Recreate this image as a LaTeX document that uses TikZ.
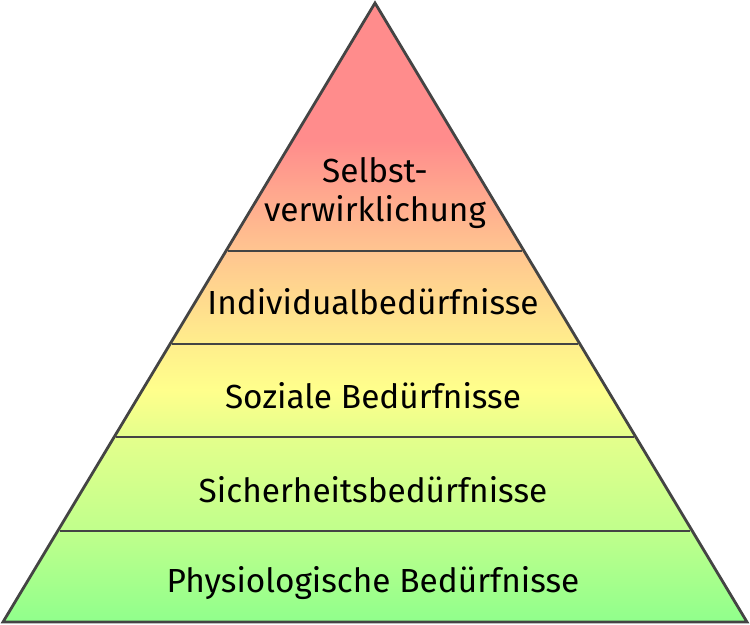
\documentclass[tikz,border=0pt]{standalone}
\usepackage{fontspec}
\setmainfont{Fira Sans}
\usepackage{tikz}

\definecolor{toprot}{RGB}{255,140,140}
\definecolor{pfirsich}{RGB}{255,197,144}
\definecolor{hellgelb}{RGB}{255,238,140}
\definecolor{gelb}{RGB}{255,255,140}
\definecolor{gelbgruen}{RGB}{228,255,140}
\definecolor{hellgruen}{RGB}{192,255,140}
\definecolor{gruen}{RGB}{144,255,140}
\definecolor{linie}{RGB}{68,68,68}

\pgfdeclareverticalshading{pyramide}{100bp}{%
  color(0bp)=(gruen); color(25bp)=(gruen); color(32.35bp)=(hellgruen);
  color(39.94bp)=(gelbgruen); color(43.74bp)=(gelb); color(47.46bp)=(hellgelb);
  color(54.97bp)=(pfirsich); color(63.9bp)=(toprot); color(75bp)=(toprot);
  color(100bp)=(toprot)}

\begin{document}
\begin{tikzpicture}[x=0.02cm,y=-0.02cm]
\tikzstyle{every node}+=[inner sep=0pt,font=\fontsize{19}{22.5}\selectfont]
\useasboundingbox (0,0) rectangle (750,625);
\shade [shading=pyramide] (375,3) -- (747,622) -- (3,622) -- cycle;
\draw [linie,line width=1.6pt] (228.2,251) -- (521.8,251);
\draw [linie,line width=1.6pt] (172.3,344) -- (577.7,344);
\draw [linie,line width=1.6pt] (116.4,437) -- (633.6,437);
\draw [linie,line width=1.6pt] (59.7,531) -- (690.3,531);
\draw [linie,line width=1.6pt,line join=miter] (375,3) -- (747,622) -- (3,622) -- cycle;
\node (selbst) [align=center] at (375,193) {Selbst-\\verwirklichung};
\node (individual) at (373,302) {Individualbedürfnisse};
\node (sozial) at (373,396) {Soziale Bedürfnisse};
\node (sicherheit) at (373,490) {Sicherheitsbedürfnisse};
\node (physio) at (373,583) {Physiologische Bedürfnisse};
\end{tikzpicture}
\end{document}
